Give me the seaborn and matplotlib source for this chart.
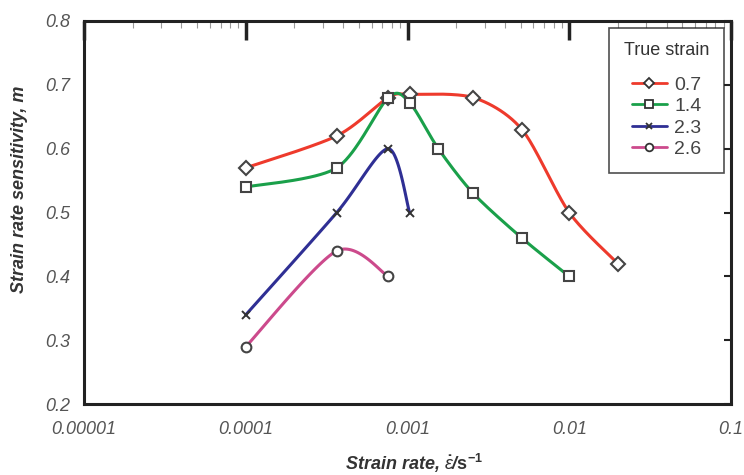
import numpy as np
import matplotlib
matplotlib.use("Agg")
import matplotlib.pyplot as plt
import seaborn as sns
from matplotlib.lines import Line2D
from matplotlib.ticker import FixedLocator, LogLocator, NullFormatter

# Data
strain_labels = ["0.7", "1.4", "2.3", "2.6"]
rate_07 = [1e-4, 3.65e-4, 7.6e-4, 1.03e-3, 2.55e-3, 5.1e-3, 1e-2, 2e-2]
m_07 = [0.57, 0.62, 0.68, 0.685, 0.68, 0.63, 0.50, 0.42]
rate_14 = [1e-4, 3.65e-4, 7.6e-4, 1.03e-3, 1.55e-3, 2.55e-3, 5.1e-3, 1e-2]
m_14 = [0.54, 0.57, 0.68, 0.672, 0.60, 0.53, 0.46, 0.40]
rate_23 = [1e-4, 3.65e-4, 7.6e-4, 1.03e-3]
m_23 = [0.34, 0.50, 0.60, 0.50]
rate_26 = [1e-4, 3.65e-4, 7.6e-4]
m_26 = [0.29, 0.44, 0.40]
xtick_values = [1e-5, 1e-4, 1e-3, 1e-2, 1e-1]
xtick_labels = ["0.00001", "0.0001", "0.001", "0.01", "0.1"]
ytick_values = [0.2, 0.3, 0.4, 0.5, 0.6, 0.7, 0.8]

colors = ["#ee3a2c", "#1aa04a", "#2f2f94", "#cc4a8c"]
markers = ["D", "s", "x", "o"]
msizes = [7, 7, 6, 7]

sns.set_style("white")
plt.rcParams["font.family"] = ["Liberation Sans", "DejaVu Sans"]
plt.rcParams["mathtext.fontset"] = "custom"
plt.rcParams["mathtext.rm"] = "Liberation Sans:bold"
plt.rcParams["mathtext.it"] = "Liberation Sans:italic"
plt.rcParams["mathtext.bf"] = "Liberation Sans:bold"


def smooth(xs, ys, n=40, s=0.42):
    # cardinal spline in (log x, y) space, like a smoothed spreadsheet line
    P = np.column_stack([np.log10(xs), ys])
    Q = np.vstack([P[0], P, P[-1]])
    tang = s * (Q[2:] - Q[:-2])
    t = np.linspace(0, 1, n)[:, None]
    h00 = 2 * t ** 3 - 3 * t ** 2 + 1
    h10 = t ** 3 - 2 * t ** 2 + t
    h01 = -2 * t ** 3 + 3 * t ** 2
    h11 = t ** 3 - t ** 2
    segs = []
    for i in range(len(P) - 1):
        segs.append(h00 * P[i] + h10 * tang[i] + h01 * P[i + 1] + h11 * tang[i + 1])
    pts = np.vstack(segs)
    return 10 ** pts[:, 0], pts[:, 1]


fig, ax = plt.subplots(figsize=(7.44, 4.75), dpi=100)
fig.subplots_adjust(left=0.113, right=0.9825, top=0.956, bottom=0.149)

series = [(rate_07, m_07), (rate_14, m_14), (rate_23, m_23), (rate_26, m_26)]
handles = []
for (xs, ys), lab, c, mk, ms in zip(series, strain_labels, colors, markers, msizes):
    sx, sy = smooth(xs, ys)
    sns.lineplot(x=sx, y=sy, sort=False, estimator=None, color=c, lw=2.2, ax=ax)
    if mk == "x":
        ax.plot(xs, ys, ls="none", marker=mk, ms=ms, mec="#333333", mew=1.4, zorder=5)
    else:
        ax.plot(xs, ys, ls="none", marker=mk, ms=ms, mfc="white", mec="#444444",
                mew=1.5, zorder=5)
    handles.append(Line2D([], [], color=c, lw=2.0, marker=mk, ms=ms - 1.5, mfc="white",
                          mec="#333333", mew=1.3, label=lab))

ax.set_xscale("log")
ax.set_xlim(1e-5, 0.1)
ax.set_ylim(0.2, 0.8)
ax.xaxis.set_major_locator(FixedLocator(xtick_values))
ax.set_xticklabels(xtick_labels)
ax.xaxis.set_minor_locator(LogLocator(base=10, subs=np.arange(2, 10)))
ax.xaxis.set_minor_formatter(NullFormatter())
ax.set_yticks(ytick_values)
ax.set_yticklabels([f"{v:.1f}" for v in ytick_values])

ax.tick_params(axis="x", which="major", direction="in", top=True, length=14,
               width=2.5, color="#222222", pad=12, labelsize=13, labelcolor="#555555")
ax.tick_params(axis="x", which="minor", direction="in", top=True, length=5,
               width=0.8, color="#999999")
ax.tick_params(axis="y", which="major", direction="in", right=True, length=5,
               width=1.5, color="#222222", pad=10, labelsize=13, labelcolor="#555555")
for lbl in ax.get_xticklabels() + ax.get_yticklabels():
    lbl.set_fontstyle("italic")

for sp in ax.spines.values():
    sp.set_visible(True)
    sp.set_linewidth(2.2)
    sp.set_color("#222222")

ax.set_ylabel("Strain rate sensitivity, m", fontsize=13, fontweight="bold",
              fontstyle="italic", color="#333333")
ax.yaxis.set_label_coords(-0.086, 0.561)
ax.set_xlabel(r"Strain rate, $\it{\dot{\varepsilon}}$/$\mathrm{s}^{-1}$", fontsize=13,
              fontweight="bold", fontstyle="italic", color="#333333")
ax.xaxis.set_label_coords(0.51, -0.125)

leg = ax.legend(handles=handles, title="True strain", loc="upper right",
                bbox_to_anchor=(0.989, 0.982), borderaxespad=0, fontsize=14,
                title_fontsize=13, frameon=True, fancybox=False, edgecolor="#222222",
                handlelength=1.8, labelspacing=0.2, borderpad=0.75, handletextpad=0.4)
leg.get_frame().set_linewidth(1.2)
leg.get_title().set_color("#333333")
for txt in leg.get_texts():
    txt.set_color("#444444")
leg._legend_box.sep = 12

fig.savefig("out.png", dpi=100)
